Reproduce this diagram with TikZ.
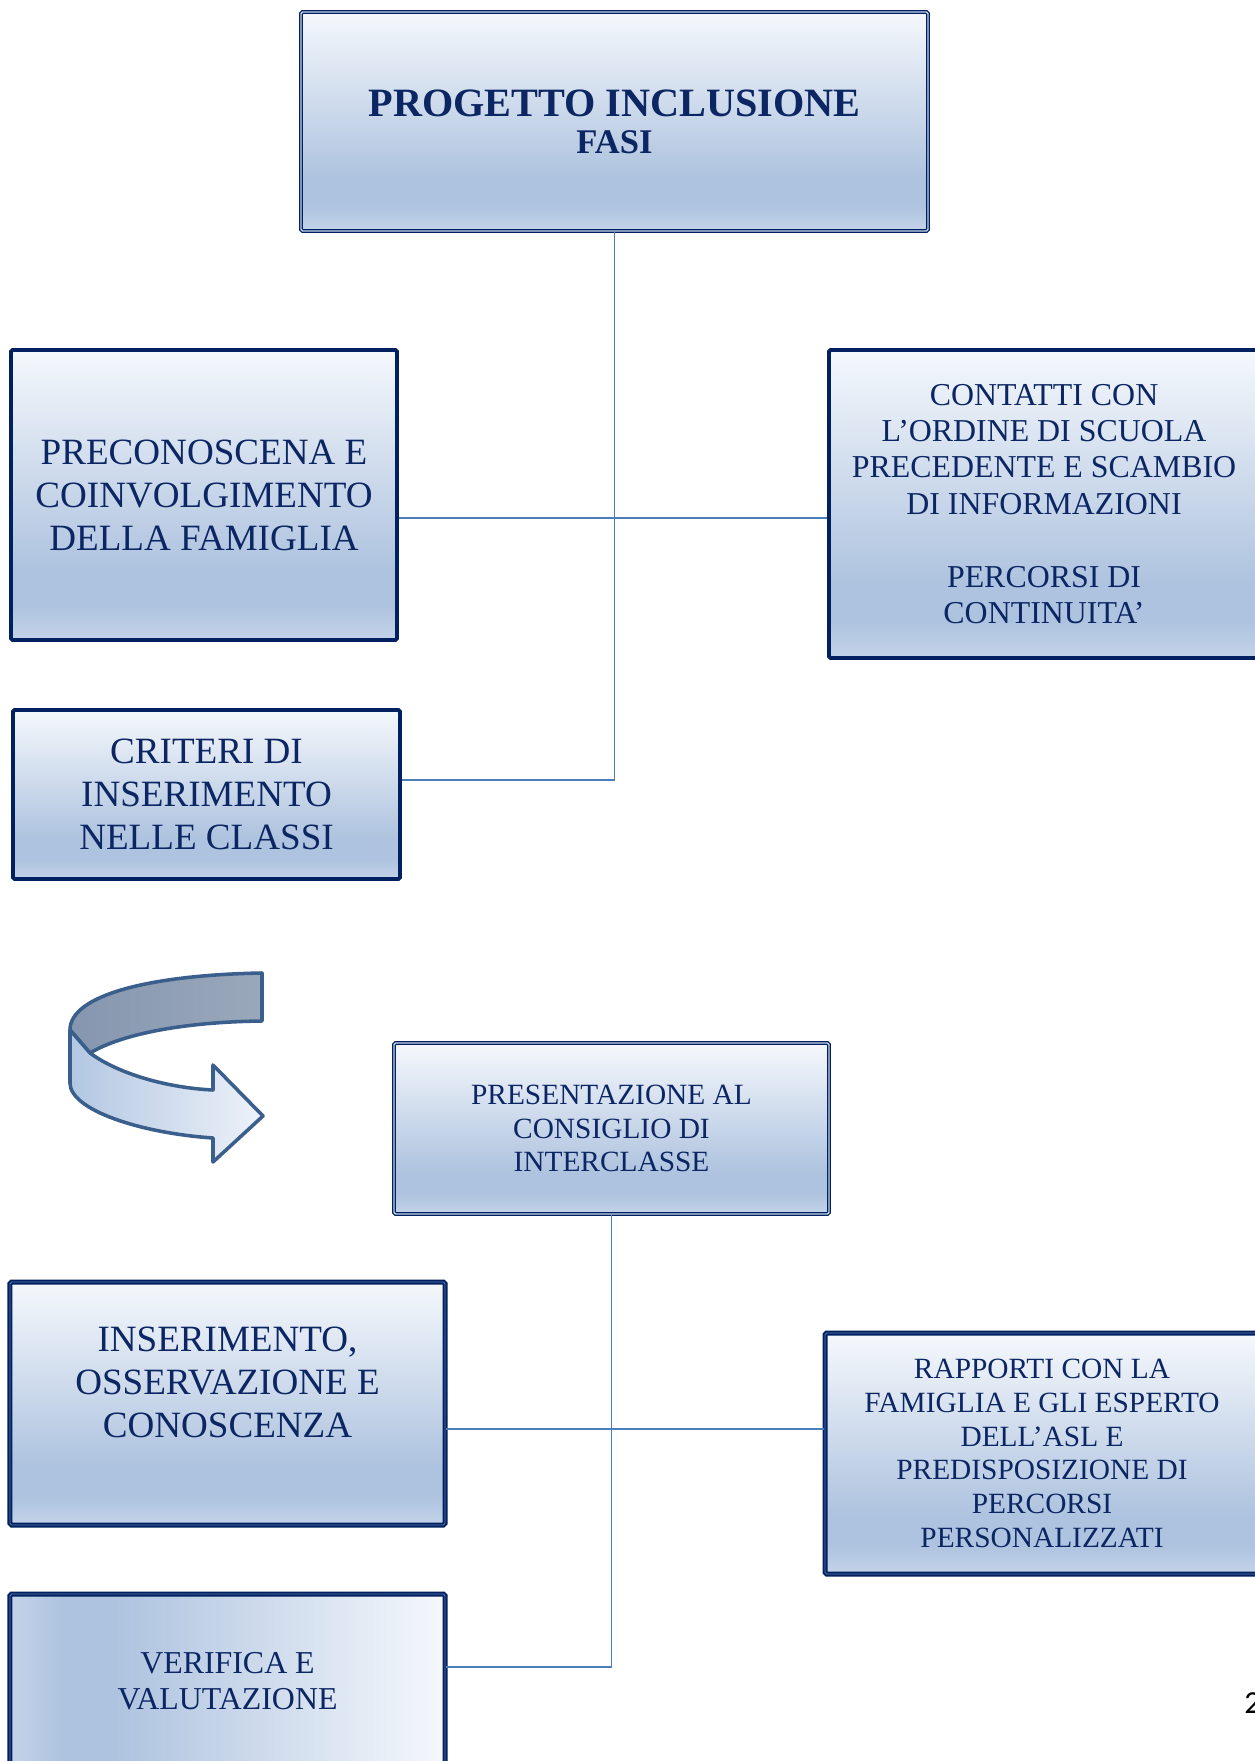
\documentclass[tikz,border=0pt]{standalone}
\usepackage{fontspec}
\setmainfont{Liberation Serif}
\newfontfamily\numfont{Carlito}
\usepackage{tikz}
\usetikzlibrary{positioning}
\usetikzlibrary{calc}
\definecolor{blunotte}{RGB}{0,32,96}
\definecolor{testo}{RGB}{12,38,100}
\definecolor{linea}{RGB}{74,126,187}
\definecolor{bordino}{RGB}{95,125,175}
\definecolor{sfondoalto}{RGB}{245,248,252}
\definecolor{sfondoscuro}{RGB}{174,195,223}
\definecolor{sfondobasso}{RGB}{196,211,233}
\definecolor{frecciabordo}{RGB}{58,95,140}
\pgfdeclareverticalshading{riquadro}{100bp}{color(0bp)=(sfondobasso); color(25bp)=(sfondobasso); color(31bp)=(sfondoscuro); color(37bp)=(sfondoscuro); color(75bp)=(sfondoalto); color(100bp)=(sfondoalto)}
\tikzstyle{block} = [rectangle, rounded corners=0.8pt, shading=riquadro, text=testo, align=center, inner sep=0pt]
\tikzstyle{spesso} = [block, draw=blunotte, line width=1.9pt]
\tikzstyle{doppio} = [block, draw=blunotte, line width=0.6pt, double=sfondobasso, double distance=0.7pt]
\tikzstyle{spessofine} = [block, draw=blunotte, line width=1pt, double=bordino, double distance=0.4pt]
\tikzstyle{link} = [draw=linea, line width=0.7pt]
\tikzstyle{titoletto} = [font=\fontsize{19.3}{17.8}\selectfont\bfseries]
\tikzstyle{grande} = [font=\fontsize{17.8}{20.6}\selectfont]
\tikzstyle{medio} = [font=\fontsize{15.3}{17.5}\selectfont]
\tikzstyle{piccolo} = [font=\fontsize{14.1}{16.2}\selectfont]

\begin{document}
\begin{tikzpicture}[x=0.48pt,y=-0.48pt]
    \useasboundingbox[fill=white] (0,0) rectangle (1254,1761);

    \node [doppio, titoletto, minimum width=300.96pt, minimum height=105.12pt] (titolo) at (614.5,121.5)
        {PROGETTO INCLUSIONE\\ \fontsize{16.6}{17.8}\selectfont\bfseries FASI};
    \node [spesso, grande, minimum width=185.28pt, minimum height=139.2pt] (preconoscenza) at (204,495)
        {PRECONOSCENA E\\COINVOLGIMENTO\\DELLA FAMIGLIA};
    \node [spesso, medio, minimum width=206.4pt, minimum height=147.84pt] (contatti) at (1044,504)
        {CONTATTI CON\\L'ORDINE DI SCUOLA\\PRECEDENTE E SCAMBIO\\DI INFORMAZIONI\\[17.5pt]PERCORSI DI\\CONTINUITA'};
    \node [spesso, grande, minimum width=185.76pt, minimum height=81.12pt] (criteri) at (206.5,794.5)
        {CRITERI DI\\INSERIMENTO\\NELLE CLASSI};

    \node [doppio, piccolo, minimum width=208.8pt, minimum height=82.08pt] (presentazione) at (611.5,1128.5)
        {PRESENTAZIONE AL\\CONSIGLIO DI\\INTERCLASSE};
    \node [spessofine, grande, minimum width=208.8pt, minimum height=116.64pt] (inserimento) at (227.5,1403.5)
        {INSERIMENTO,\\OSSERVAZIONE E\\CONOSCENZA\\\mbox{}};
    \node [spessofine, piccolo, minimum width=208.32pt, minimum height=115.68pt] (rapporti) at (1042,1453.5)
        {RAPPORTI CON LA\\FAMIGLIA E GLI ESPERTO\\DELL'ASL E\\PREDISPOSIZIONE DI\\PERCORSI\\PERSONALIZZATI};
    \node [spessofine, medio, shading angle=-90, minimum width=208.8pt, minimum height=83.52pt] (verifica) at (227.5,1681)
        {VERIFICA E\\VALUTAZIONE};

    \node [font=\numfont\fontsize{15.4}{18}\selectfont, anchor=base west, inner sep=0pt] (pagina) at (1244,1713) {2};

    \coordinate (snodoA) at (615,780);
    \coordinate (snodoB) at (615,518);
    \coordinate (snodoC) at (613,1667);
    \coordinate (snodoD) at (613,1429);

    \draw [link] (titolo.south) |- (criteri.east |- snodoA); % connections
    \draw [link] (preconoscenza.east |- snodoB) -- (contatti.west |- snodoB);
    \draw [link] (presentazione.south) |- (verifica.east |- snodoC);
    \draw [link] (inserimento.east |- snodoD) -- (rapporti.west |- snodoD);

    % freccia curva
    \begin{scope}[draw=frecciabordo, line width=1.7pt, line join=round]
        \draw [left color={rgb,255:red,133;green,150;blue,175}, right color={rgb,255:red,154;green,168;blue,186}]
            (262,973) .. controls (150,975) and (70,995) .. (70,1030) -- (90,1053)
            .. controls (120,1035) and (180,1022) .. (262,1021) -- cycle;
        \draw [left color={rgb,255:red,179;green,199;blue,226}, right color={rgb,255:red,237;green,242;blue,249}]
            (70,1030) -- (90,1053) .. controls (120,1075) and (170,1088) .. (213,1090)
            -- (213,1065) -- (263,1116) -- (213,1162) -- (213,1138)
            .. controls (140,1133) and (70,1110) .. (70,1083) -- cycle;
    \end{scope}
\end{tikzpicture}
\end{document}
